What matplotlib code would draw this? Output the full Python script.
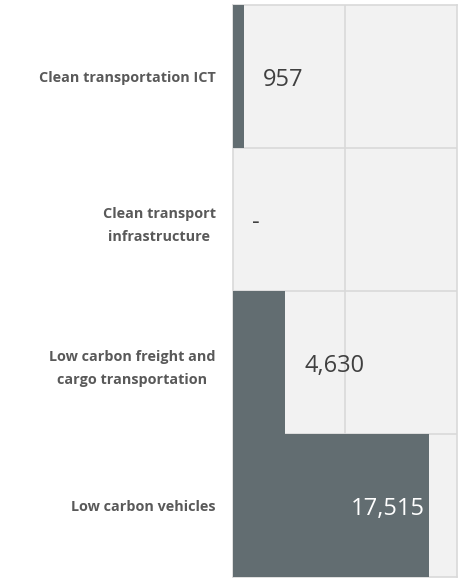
import matplotlib.pyplot as plt

# Datos
categories = ['Clean transportation ICT', 'Clean transport\ninfrastructure',
              'Low carbon freight and\ncargo transportation', 'Low carbon vehicles']
values = [957, 0, 4630, 17515]
value_labels = ['957', '-', '4,630', '17,515']

bar_color = '#626d71'
panel_color = '#f2f2f2'
line_color = '#d9d9d9'

fig = plt.figure(figsize=(4.67, 5.79), dpi=100)
ax = fig.add_axes([233 / 467, 2 / 579, 224 / 467, 572 / 579])
ax.set_facecolor(panel_color)

y = range(len(categories))
ax.barh(y, values, height=1.0, color=bar_color, zorder=3)

ax.set_xlim(0, 20000)
ax.set_ylim(len(categories) - 0.5, -0.5)

# líneas de la cuadrícula
ax.axvline(10000, color=line_color, lw=1.2, zorder=1)
for b in [0.5, 1.5, 2.5]:
    ax.axhline(b, color=line_color, lw=1.2, zorder=1)
for s in ax.spines.values():
    s.set_color(line_color)
    s.set_linewidth(1.2)

ax.set_xticks([])
ax.set_yticks(list(y))
ax.set_yticklabels(categories, fontfamily='Open Sans', fontweight='bold',
                   fontsize=10.4, color='#595959', multialignment='center',
                   linespacing=1.8)
ax.tick_params(axis='y', length=0, pad=12.5)

# Etiquetas de valores
for i, (v, lab) in enumerate(zip(values, value_labels)):
    if v > 15000:
        ax.annotate(lab, (v, i), xytext=(-3, -2.5), textcoords='offset points',
                    ha='right', va='center', fontsize=17, color='white',
                    fontfamily='Open Sans', zorder=4)
    else:
        ax.annotate(lab, (v, i), xytext=(14, -2.5), textcoords='offset points',
                    ha='left', va='center', fontsize=17, color='#404040',
                    fontfamily='Open Sans', zorder=4)

fig.savefig('out.png', dpi=100)
